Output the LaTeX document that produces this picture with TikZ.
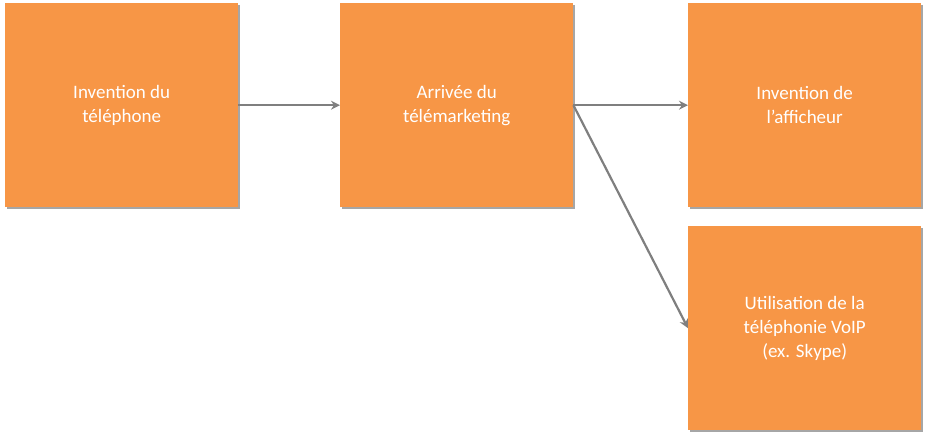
\documentclass[tikz,border=0pt]{standalone}
\usepackage{fontspec}
\setmainfont{Carlito}
\usetikzlibrary{arrows.meta,shadows}
\definecolor{boxor}{HTML}{F79646}
\definecolor{arrg}{HTML}{7F7F7F}
\tikzset{
  box/.style={draw=none,fill=boxor,minimum width=233pt,minimum height=204pt,anchor=north west,inner sep=0pt,
    text=white,align=center,font=\fontsize{19}{24}\selectfont,
    drop shadow={shadow xshift=1.5pt,shadow yshift=-1.5pt,fill=black,opacity=0.35}},
  conn/.style={draw=arrg,line width=2.2pt,-{Stealth[length=9pt,width=9pt]}}
}
\begin{document}
\begin{tikzpicture}[x=1pt,y=-1pt]
\useasboundingbox (0,0) rectangle (926,438);
\node[box] (a) at (5,3) {Invention du\\téléphone};
\node[box] (b) at (340,3) {Arrivée du\\télémarketing};
\node[box] (c) at (688,3) {Invention de\\l’afficheur};
\node[box] (d) at (688,226) {Utilisation de la\\téléphonie VoIP\\(ex. Skype)};
\draw[conn] (a.east) -- (b.west);
\draw[conn] (b.east) -- (c.west);
\draw[conn] (b.east) -- (d.west);
\end{tikzpicture}
\end{document}
